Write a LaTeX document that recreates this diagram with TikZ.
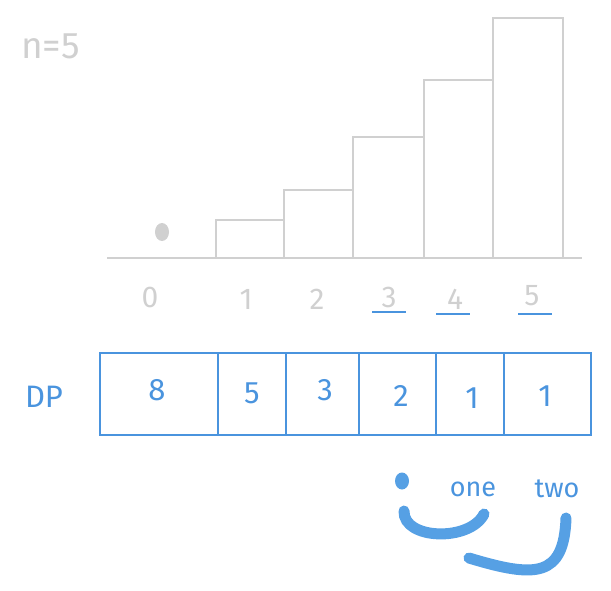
\documentclass[tikz,border=0pt]{standalone}
\usepackage{fontspec}
\setmainfont{Fira Sans}
\begin{document}
\begin{tikzpicture}[x=1pt,y=-1pt,
  greyline/.style={draw=lgrey,line width=2pt},
  blueline/.style={draw=dblue,line width=1.8pt},
  greytxt/.style={text=lgrey,font=\fontsize{30}{30}\selectfont},
  bluetxt/.style={text=dblue,font=\fontsize{31}{31}\selectfont},
  cellnum/.style={text=dblue,font=\fontsize{31}{31}\selectfont},
  cell/.style={blueline,minimum height=82pt,inner sep=0pt,anchor=north west},
  stroke/.style={draw=sblue,line width=11pt,line cap=round}]
\definecolor{lgrey}{HTML}{D0D0D0}
\definecolor{dblue}{HTML}{4A94DE}
\definecolor{sblue}{HTML}{56A0E4}
\useasboundingbox (0,0) rectangle (611,591);
% title
\node[greytxt,font=\fontsize{37}{37}\selectfont,anchor=west,inner sep=0pt] (n) at (21,46) {n=5};
% baseline and bars
\coordinate (bl) at (107,258);
\coordinate (br) at (582,258);
\draw[greyline] (bl) -- (br);
\fill[lgrey] (162,232) ellipse (7pt and 9pt);
\draw[greyline] (216,258) rectangle (284,220);
\draw[greyline] (284,258) rectangle (353,190);
\draw[greyline] (353,258) rectangle (424,137);
\draw[greyline] (424,258) rectangle (493,80);
\draw[greyline] (493,258) rectangle (563,18);
% axis labels
\node[greytxt] (l0) at (150,297) {0};
\node[greytxt] (l1) at (246,299) {1};
\node[greytxt] (l2) at (317,299) {2};
\node[greytxt] (l3) at (389,297) {3};
\node[greytxt] (l4) at (455,299) {4};
\node[greytxt] (l5) at (532,296) {5};
\draw[blueline] (372,312) -- (406,312);
\draw[blueline] (436,314) -- (470,314);
\draw[blueline] (518,314) -- (552,314);
% DP table
\node[bluetxt] (dp) at (44,397) {DP};
\node[cell,minimum width=118pt] (c0) at (99,352) {};
\node[cell,minimum width=68pt] (c1) at (217,352) {};
\node[cell,minimum width=73pt] (c2) at (285,352) {};
\node[cell,minimum width=77pt] (c3) at (358,352) {};
\node[cell,minimum width=68pt] (c4) at (435,352) {};
\node[cell,minimum width=87pt] (c5) at (503,352) {};
\node[cellnum] (v0) at (157,390) {8};
\node[cellnum] (v1) at (252,393) {5};
\node[cellnum] (v2) at (325,390) {3};
\node[cellnum] (v3) at (401,396) {2};
\node[cellnum] (v4) at (472,398) {1};
\node[cellnum] (v5) at (545,396) {1};
% steps
\fill[sblue] (402,481) ellipse (7pt and 8.5pt);
\node[bluetxt,font=\fontsize{27}{27}\selectfont] (one) at (473,489) {one};
\node[bluetxt,font=\fontsize{27}{27}\selectfont] (two) at (557,489) {two};
\draw[stroke] (404,511) .. controls (403,540) and (470,542) .. (484,514);
\draw[stroke] (566,518) .. controls (564,578) and (535,578) .. (469,558);
\end{tikzpicture}
\end{document}
